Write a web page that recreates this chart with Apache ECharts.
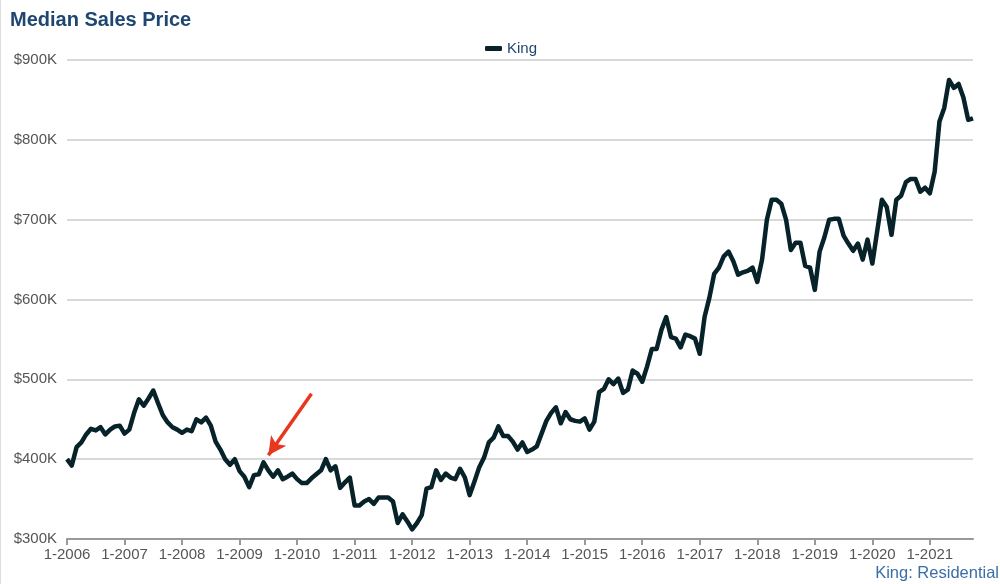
<!DOCTYPE html>
<html>
<head>
<meta charset="utf-8">
<title>Median Sales Price</title>
<script src="https://cdn.jsdelivr.net/npm/echarts@6/dist/echarts.min.js"></script>
<style>
  html, body { margin: 0; padding: 0; background: #fff; }
  #chart { width: 1000px; height: 584px; border-left: 1px solid #ddd; box-sizing: border-box; }
</style>
</head>
<body>
<div id="chart"></div>
<script>
// monthly median price, in $K, Jan 2006 .. Oct 2021
var seriesName = 'King'
var years = [2006, 2007, 2008, 2009, 2010, 2011, 2012, 2013, 2014, 2015, 2016, 2017, 2018, 2019, 2020, 2021]
var prices = [
  400, 392, 415, 421, 431, 438, 436, 440, 431, 437, 441, 442, // 2006
  432, 437, 458, 475, 467, 476, 486, 470, 455, 446, 440, 437, // 2007
  433, 437, 435, 450, 446, 452, 442, 422, 412, 400, 393, 400, // 2008
  385, 378, 365, 380, 381, 396, 386, 378, 386, 375, 378, 382, // 2009
  375, 370, 370, 376, 381, 386, 400, 386, 391, 364, 371, 377, // 2010
  342, 342, 347, 350, 344, 352, 352, 352, 347, 320, 331, 322, // 2011
  312, 320, 330, 363, 365, 386, 374, 382, 377, 375, 388, 377, // 2012
  355, 372, 390, 402, 421, 427, 441, 429, 429, 422, 412, 421, // 2013
  409, 412, 416, 432, 448, 458, 465, 445, 459, 450, 448, 447, // 2014
  451, 437, 447, 484, 488, 500, 494, 501, 483, 487, 511, 507, // 2015
  497, 516, 538, 538, 562, 578, 553, 551, 540, 556, 554, 551, // 2016
  532, 578, 602, 632, 640, 654, 660, 648, 631, 634, 636, 640, // 2017
  622, 650, 700, 725, 725, 720, 700, 662, 671, 671, 642, 640, // 2018
  612, 660, 678, 700, 701, 701, 680, 670, 661, 670, 650, 675, // 2019
  645, 685, 725, 716, 681, 725, 730, 747, 751, 751, 735, 740, // 2020
  733, 760, 823, 840, 875, 865, 870, 853, 825, 827            // 2021
]
// arrow annotation: from [month, $K] to [month, $K]
var arrowFrom = ['4-2010', 482]
var arrowTo = ['7-2009', 405]

var months = []
for (var i = 0; i < years.length; i++) {
  for (var m = 1; m <= 12; m++) {
    if (months.length < prices.length) months.push(m + '-' + years[i])
  }
}

var myChart = echarts.init(document.getElementById('chart'))
var option = {
  animation: false,
  textStyle: { fontFamily: 'Liberation Sans, Arial, sans-serif' },
  title: {
    text: 'Median Sales Price',
    left: 4,
    top: 5,
    textStyle: { fontSize: 20, fontWeight: 'bold', color: '#1f4670' }
  },
  legend: {
    data: [seriesName],
    left: 479,
    top: 36,
    icon: 'roundRect',
    itemWidth: 17,
    itemHeight: 5,
    itemGap: 8,
    textStyle: { fontSize: 15, color: '#1f4670' }
  },
  graphic: [{
    type: 'text',
    right: 1,
    bottom: 2,
    style: { text: 'King: Residential', fontSize: 16.5, fill: '#3b6ea8', fontFamily: 'Liberation Sans, Arial, sans-serif' }
  }],
  grid: { left: 66, right: 27, top: 60, bottom: 45 },
  xAxis: {
    type: 'category',
    data: months,
    boundaryGap: false,
    axisLine: { lineStyle: { color: '#999', width: 2 } },
    axisTick: { interval: 11, length: 6, lineStyle: { color: '#999', width: 2 } },
    axisLabel: { interval: 11, color: '#555', fontSize: 15, margin: 8 },
    splitLine: { show: false }
  },
  yAxis: {
    type: 'value',
    min: 300,
    max: 900,
    interval: 100,
    axisLine: { show: false },
    axisTick: { show: false },
    axisLabel: {
      color: '#555',
      fontSize: 15,
      margin: 10,
      formatter: function (v) { return '$' + v + 'K' }
    },
    splitLine: { lineStyle: { color: '#cccccc', width: 1.5 } }
  },
  series: [{
    name: seriesName,
    type: 'line',
    data: prices,
    showSymbol: false,
    symbol: 'none',
    lineStyle: { color: '#08222a', width: 4.5, join: 'round' },
    itemStyle: { color: '#08222a' },
    markLine: {
      silent: true,
      symbol: ['none', 'arrow'],
      symbolSize: [14, 18],
      label: { show: false },
      lineStyle: { color: '#e8371f', width: 3.5, type: 'solid' },
      data: [[{ coord: arrowFrom }, { coord: arrowTo }]]
    }
  }]
}
myChart.setOption(option)
</script>
</body>
</html>
